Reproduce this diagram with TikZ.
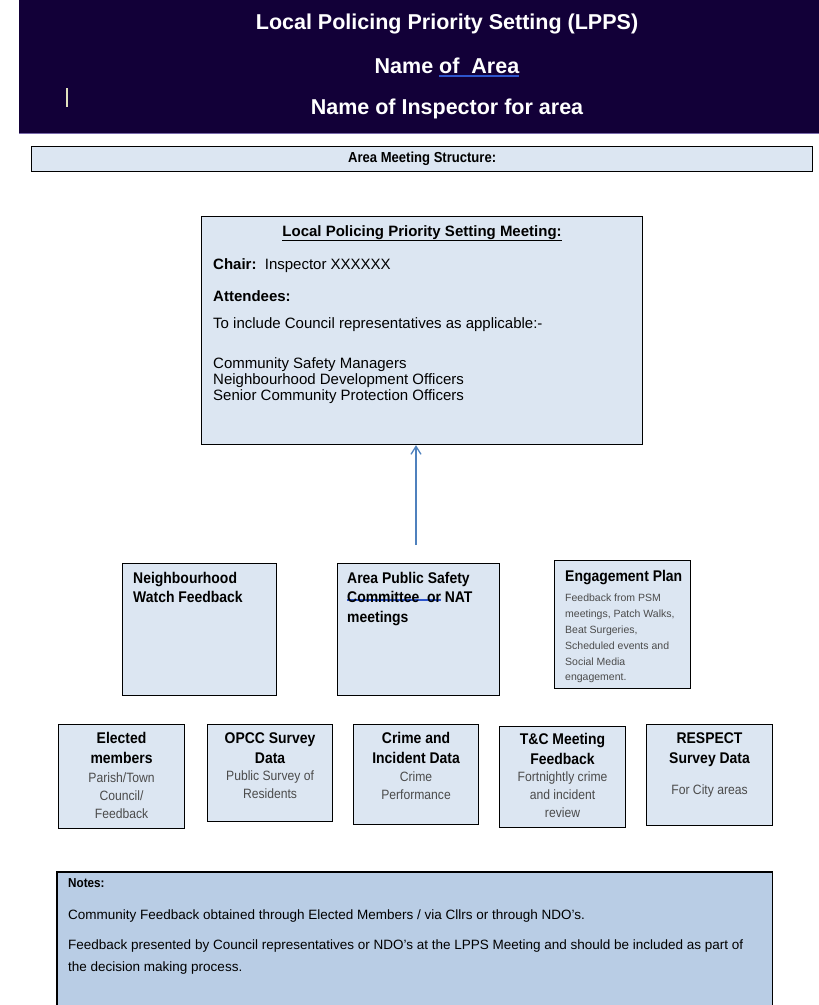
\documentclass[tikz,border=0pt]{standalone}
\usepackage{fontspec}
\setmainfont{Liberation Sans}
\newfontfamily\narrowsans[FakeStretch=0.9]{Liberation Sans}
\usetikzlibrary{arrows.meta,positioning}

\definecolor{headnavy}{RGB}{18,0,56}
\definecolor{headedge}{RGB}{120,105,170}
\definecolor{panelfill}{RGB}{220,230,242}
\definecolor{notesfill}{RGB}{185,205,229}
\definecolor{linkblue}{RGB}{79,129,189}
\definecolor{gramblue}{RGB}{45,85,205}
\definecolor{softgrey}{RGB}{75,75,75}
\definecolor{cursorpale}{RGB}{225,225,190}

% blue double underline, as left by a grammar check
\newsavebox\grambox
\newcommand\gramul[2]{\sbox\grambox{#2}\rlap{\textcolor{gramblue}{\lower#1\vbox{\hrule width\wd\grambox height.6pt\kern1pt\hrule width\wd\grambox height.6pt}}}\usebox\grambox}

\tikzset{
  panel/.style={draw=black, line width=1.1pt, fill=panelfill, inner sep=0pt, anchor=north west},
  headline/.style={text=white, font=\fontsize{21.5}{26}\selectfont\bfseries, inner sep=0pt, anchor=north},
  bodytext/.style={font=\fontsize{15}{16}\selectfont, align=left, inner sep=0pt, anchor=north west},
  midtitle/.style={font=\narrowsans\fontsize{15.5}{19.5}\selectfont\bfseries, align=left, inner sep=0pt, anchor=north west},
  cellnote/.style={font=\fontsize{10.5}{15.8}\selectfont, text=softgrey, align=left, inner sep=0pt, anchor=north west},
  celltitle/.style={font=\narrowsans\fontsize{15.5}{20}\selectfont\bfseries, align=center, inner sep=0pt, anchor=north},
  celldetail/.style={font=\narrowsans\fontsize{13.5}{18}\selectfont, text=softgrey, align=center, inner sep=0pt, anchor=north},
  notetext/.style={font=\fontsize{13.5}{22}\selectfont, align=left, inner sep=0pt, anchor=north west}
}

\begin{document}
\begin{tikzpicture}[x=1pt,y=-1pt]
\useasboundingbox (0,0) rectangle (819,1005);

% title banner
\node (banner) [fill=headnavy, inner sep=0pt, minimum width=800pt, minimum height=133pt, anchor=north west] at (19,0) {};
\draw [headedge, line width=0.8pt] (banner.south west) -- (banner.south east);
\node (hdtitle) [headline] at (447,14) {Local Policing Priority Setting (LPPS)};
\node (hdarea)  [headline] at (447,58) {Name \gramul{3pt}{of\ \ Area}};
\node (hdinsp)  [headline] at (447,99) {Name of Inspector for area};
\draw [cursorpale, line width=1.2pt] (67,88) -- (67,107);

% structure strip
\node (strip) [panel, line width=1.4pt, minimum width=781pt, minimum height=25pt] at (31,146) {};
\node (striptext) [font=\narrowsans\fontsize{14.5}{16}\selectfont\bfseries, inner sep=0pt] at (strip.center) {Area Meeting Structure:};

% the LPPS meeting
\node (meeting) [panel, minimum width=441pt, minimum height=228pt] at (201,216) {};
\node (mtgtitle) [font=\fontsize{15}{16}\selectfont\bfseries, inner sep=0pt, anchor=north] at ([yshift=-9pt]meeting.north) {\underline{Local Policing Priority Setting Meeting:}};
\node (mtgchair) [bodytext] at (213,258) {\textbf{Chair:}\ \ Inspector XXXXXX};
\node (mtgatt)   [bodytext] at (213,290) {\textbf{Attendees:}};
\node (mtginc)   [bodytext] at (213,317) {To include Council representatives as applicable:-};
\node (mtglist)  [bodytext] at (213,357) {Community Safety Managers\\Neighbourhood Development Officers\\Senior Community Protection Officers};

% middle row
\node (watch) [panel, minimum width=154pt, minimum height=132pt] at (122,563) {};
\node (watchtext) [midtitle] at ([shift={(11,9)}]watch.north west) {Neighbourhood\\Watch Feedback};

\node (apsc) [panel, minimum width=162pt, minimum height=132pt] at (337,563) {};
\node (apsctext) [midtitle] at ([shift={(10,9)}]apsc.north west) {Area Public Safety\\\gramul{-2pt}{Committee\ \ or} NAT\\meetings};

\node (engage) [panel, minimum width=136pt, minimum height=128pt] at (554,560) {};
\node (engtitle) [midtitle] at ([shift={(11,10)}]engage.north west) {Engagement Plan};
\node (engtext) [cellnote] at ([shift={(11,34)}]engage.north west) {Feedback from PSM\\meetings, Patch Walks,\\Beat Surgeries,\\Scheduled events and\\Social Media\\engagement.};

% bottom row
\node (elected) [panel, minimum width=126pt, minimum height=104pt] at (58,724) {};
\node (eltitle) [celltitle] at ([yshift=-8pt]elected.north) {Elected\\members};
\node (eldetail) [celldetail] at ([yshift=-49pt]elected.north) {Parish/Town\\Council/\\Feedback};

\node (opcc) [panel, minimum width=125pt, minimum height=97pt] at (207,724) {};
\node (optitle) [celltitle] at ([yshift=-8pt]opcc.north) {OPCC Survey\\Data};
\node (opdetail) [celldetail] at ([yshift=-47pt]opcc.north) {Public Survey of\\Residents};

\node (crime) [panel, minimum width=125pt, minimum height=100pt] at (353,724) {};
\node (crtitle) [celltitle] at ([yshift=-8pt]crime.north) {Crime and\\Incident Data};
\node (crdetail) [celldetail] at ([yshift=-48pt]crime.north) {Crime\\Performance};

\node (tandc) [panel, minimum width=126pt, minimum height=101pt] at (499,726) {};
\node (tctitle) [celltitle] at ([yshift=-7pt]tandc.north) {T\&C Meeting\\Feedback};
\node (tcdetail) [celldetail] at ([yshift=-46pt]tandc.north) {Fortnightly crime\\and incident\\review};

\node (respect) [panel, minimum width=126pt, minimum height=101pt] at (646,724) {};
\node (retitle) [celltitle] at ([yshift=-8pt]respect.north) {RESPECT\\Survey Data};
\node (redetail) [celldetail] at ([yshift=-61pt]respect.north) {For City areas};

% feed into the meeting
\coordinate (feedstart) at (416,545);
\draw [linkblue, line width=1.3pt, -{Straight Barb[length=8pt,width=10pt]}] (feedstart) -- (feedstart |- meeting.south);

% notes panel, running off the page
\node (notes) [fill=notesfill, inner sep=0pt, minimum width=715pt, minimum height=133pt, anchor=north west] at (57,872) {};
\draw [black, line width=1.1pt] (notes.south west) |- (notes.north east) -- (notes.south east);
\node (notehead) [notetext, font=\narrowsans\fontsize{13}{15}\selectfont\bfseries] at (68,878) {Notes:};
\node (noteone) [notetext] at (68,910) {Community Feedback obtained through Elected Members / via Cllrs or through NDO's.};
\node (notetwo) [notetext] at (68,940) {Feedback presented by Council representatives or NDO's at the LPPS Meeting and should be included as part of\\the decision making process.};
\end{tikzpicture}
\end{document}
